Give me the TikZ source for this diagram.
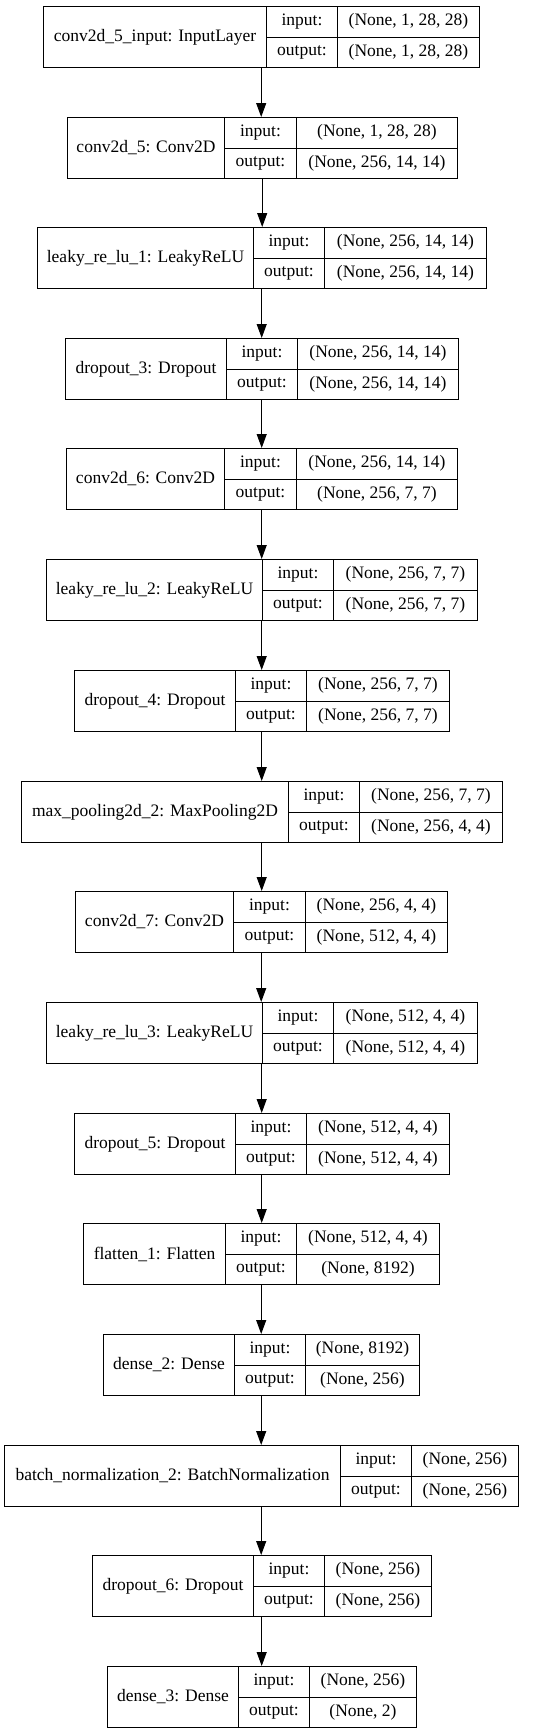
\documentclass[tikz,border=0pt]{standalone}
\usepackage{fontspec}
\setmainfont{Liberation Serif}
\usetikzlibrary{arrows.meta}

\begin{document}
\begin{tikzpicture}[x=1pt, y=-1pt,
    cell/.style={draw, line width=1pt, inner sep=0pt, anchor=north west, font=\fontsize{17.5}{20}\selectfont},
    flow/.style={-{Triangle[length=14pt, width=10pt]}, line width=1pt}]
    \useasboundingbox (0, 0) rectangle (541, 1733);

    % \layer{name}{top}{left}{split 1}{split 2}{right}{title}{input}{output}
    \def\layer#1#2#3#4#5#6#7#8#9{%
      \node[inner sep=0pt, minimum width={#6-#3}, minimum height=61pt, anchor=north west] (#1) at (#3, #2) {};
      \node[cell, minimum width={#4-#3}, minimum height=61pt] (#1-name) at (#3, #2) {#7};
      \node[cell, minimum width={#5-#4}, minimum height=30.5pt] (#1-inl) at (#4, #2) {input:};
      \node[cell, minimum width={#5-#4}, minimum height=30.5pt] (#1-outl) at (#4, #2+30.5) {output:};
      \node[cell, minimum width={#6-#5}, minimum height=30.5pt] (#1-inv) at (#5, #2) {#8};
      \node[cell, minimum width={#6-#5}, minimum height=30.5pt] (#1-outv) at (#5, #2+30.5) {#9};
    }

    \layer{input}{6}{43}{266}{337}{479}{conv2d\_5\_input: InputLayer}{(None, 1, 28, 28)}{(None, 1, 28, 28)}
    \layer{conv5}{117}{67}{224}{296}{457}{conv2d\_5: Conv2D}{(None, 1, 28, 28)}{(None, 256, 14, 14)}
    \layer{lrelu1}{227}{37}{253}{324}{486}{leaky\_re\_lu\_1: LeakyReLU}{(None, 256, 14, 14)}{(None, 256, 14, 14)}
    \layer{drop3}{338}{65}{226}{297}{458}{dropout\_3: Dropout}{(None, 256, 14, 14)}{(None, 256, 14, 14)}
    \layer{conv6}{448}{66}{224}{296}{457}{conv2d\_6: Conv2D}{(None, 256, 14, 14)}{(None, 256, 7, 7)}
    \layer{lrelu2}{559}{46}{262}{333}{477}{leaky\_re\_lu\_2: LeakyReLU}{(None, 256, 7, 7)}{(None, 256, 7, 7)}
    \layer{drop4}{670}{74}{235}{306}{449}{dropout\_4: Dropout}{(None, 256, 7, 7)}{(None, 256, 7, 7)}
    \layer{pool2}{781}{21}{288}{359}{502}{max\_pooling2d\_2: MaxPooling2D}{(None, 256, 7, 7)}{(None, 256, 4, 4)}
    \layer{conv7}{891}{75}{233}{305}{447}{conv2d\_7: Conv2D}{(None, 256, 4, 4)}{(None, 512, 4, 4)}
    \layer{lrelu3}{1002}{46}{262}{333}{477}{leaky\_re\_lu\_3: LeakyReLU}{(None, 512, 4, 4)}{(None, 512, 4, 4)}
    \layer{drop5}{1113}{74}{235}{306}{449}{dropout\_5: Dropout}{(None, 512, 4, 4)}{(None, 512, 4, 4)}
    \layer{flat1}{1223}{83}{225}{296}{439}{flatten\_1: Flatten}{(None, 512, 4, 4)}{(None, 8192)}
    \layer{dense2}{1334}{103}{234}{305}{419}{dense\_2: Dense}{(None, 8192)}{(None, 256)}
    \layer{bnorm2}{1445}{4}{340}{411}{518}{batch\_normalization\_2: BatchNormalization}{(None, 256)}{(None, 256)}
    \layer{drop6}{1555}{92}{253}{324}{431}{dropout\_6: Dropout}{(None, 256)}{(None, 256)}
    \layer{dense3}{1666}{107}{238}{309}{416}{dense\_3: Dense}{(None, 256)}{(None, 2)}

    % arrows between layers
    \draw[flow] (input.south) -- (input.south |- conv5.north);
    \draw[flow] (conv5.south) -- (conv5.south |- lrelu1.north);
    \draw[flow] (lrelu1.south) -- (lrelu1.south |- drop3.north);
    \draw[flow] (drop3.south) -- (drop3.south |- conv6.north);
    \draw[flow] (conv6.south) -- (conv6.south |- lrelu2.north);
    \draw[flow] (lrelu2.south) -- (lrelu2.south |- drop4.north);
    \draw[flow] (drop4.south) -- (drop4.south |- pool2.north);
    \draw[flow] (pool2.south) -- (pool2.south |- conv7.north);
    \draw[flow] (conv7.south) -- (conv7.south |- lrelu3.north);
    \draw[flow] (lrelu3.south) -- (lrelu3.south |- drop5.north);
    \draw[flow] (drop5.south) -- (drop5.south |- flat1.north);
    \draw[flow] (flat1.south) -- (flat1.south |- dense2.north);
    \draw[flow] (dense2.south) -- (dense2.south |- bnorm2.north);
    \draw[flow] (bnorm2.south) -- (bnorm2.south |- drop6.north);
    \draw[flow] (drop6.south) -- (drop6.south |- dense3.north);
  \end{tikzpicture}
\end{document}
